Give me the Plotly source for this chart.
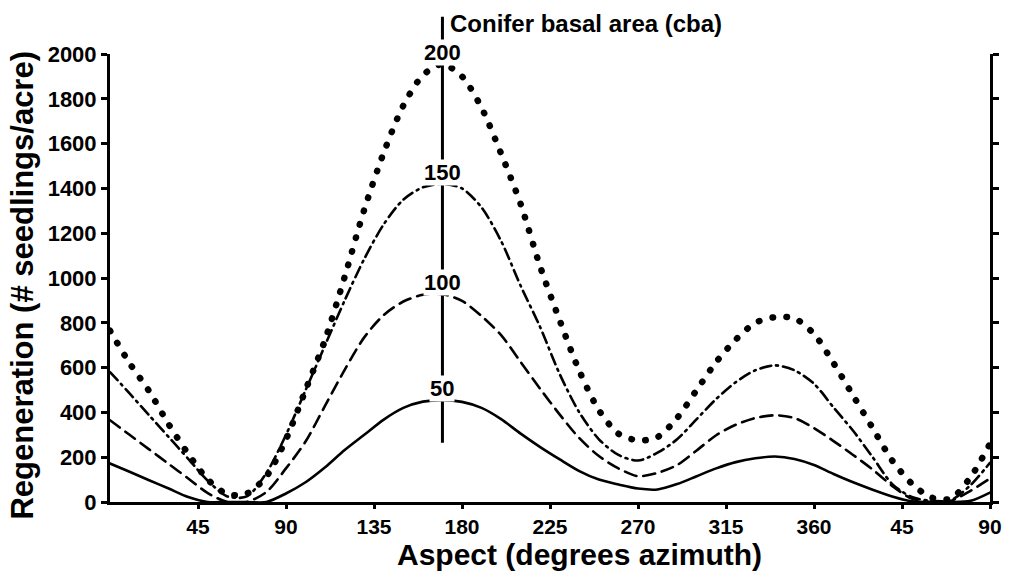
import plotly.graph_objects as go

# ---- data ----
aspect = [0, 10, 20, 30, 40, 50, 60, 70, 80, 90,
          100, 110, 120, 130, 140, 150, 160, 170, 180, 190,
          200, 210, 220, 230, 240, 250, 260, 270, 280, 290,
          300, 310, 320, 330, 340, 350, 360, 370, 380, 390,
          400, 410, 420, 430, 440, 450]

cba50 = [172, 135, 97, 60, 22, 0, 0, 0, 0, 38,
         88, 155, 232, 300, 368, 420, 448, 455, 447, 420,
         370, 305, 245, 190, 138, 100, 78, 60, 56, 80,
         115, 150, 178, 195, 203, 192, 165, 125, 88, 55,
         25, 3, 0, 0, 5, 42]

cba100 = [365, 300, 235, 170, 105, 40, 0, 0, 45, 150,
          270, 430, 590, 735, 835, 895, 925, 928, 898, 830,
          745, 625, 505, 390, 285, 205, 150, 115, 130, 165,
          230, 298, 345, 375, 387, 375, 330, 272, 210, 145,
          72, 15, 0, 5, 50, 105]

cba150 = [580, 485, 387, 290, 193, 95, 25, 25, 130, 300,
          499, 700, 900, 1085, 1240, 1350, 1405, 1420, 1400, 1315,
          1165, 965, 780, 570, 400, 280, 210, 185, 220, 280,
          370, 460, 535, 588, 610, 588, 528, 422, 318, 200,
          80, 22, 5, 8, 75, 175]

cba200 = [765, 620, 495, 347, 215, 100, 35, 38, 115, 280,
          500, 725, 1005, 1305, 1560, 1770, 1905, 1955, 1900, 1760,
          1555, 1330, 1050, 810, 585, 410, 305, 275, 290, 375,
          500, 625, 725, 800, 825, 820, 750, 620, 475, 330,
          185, 82, 20, 15, 110, 260]

series_labels = ["50", "100", "150", "200"]
marker_aspect = 170  # aspect where the cba labels sit

x_tickvals = [45, 90, 135, 180, 225, 270, 315, 360, 405, 450]
x_ticktext = ["45", "90", "135", "180", "225", "270", "315", "360", "45", "90"]
y_tickvals = [0, 200, 400, 600, 800, 1000, 1200, 1400, 1600, 1800, 2000]

x_title = "Aspect (degrees azimuth)"
y_title = "Regeneration (# seedlings/acre)"
legend_title = "Conifer basal area (cba)"

# ---- figure ----
FONT = "Liberation Sans, Arial, Helvetica, sans-serif"
styles = [
    dict(width=2.6, dash="solid"),
    dict(width=2.6, dash="12px,7px"),
    dict(width=2.6, dash="11px,5px,2px,5px"),
    dict(width=6.5, dash="0.5px,13.5px"),
]
all_series = [cba50, cba100, cba150, cba200]

fig = go.Figure()
for ys, st in zip(all_series, styles):
    fig.add_trace(go.Scatter(
        x=aspect, y=ys, mode="lines", hoverinfo="skip", showlegend=False,
        line=dict(color="black", width=st["width"], dash=st["dash"],
                  shape="spline", smoothing=0.8),
    ))

# vertical marker line
fig.add_shape(type="line", xref="x", yref="paper",
              x0=marker_aspect, x1=marker_aspect, y0=0.132, y1=1.083,
              line=dict(color="black", width=3), layer="above")

# curve labels at peaks
for lab, ys in zip(series_labels, all_series):
    peak = ys[aspect.index(marker_aspect)]
    fig.add_annotation(x=marker_aspect, y=peak, xref="x", yref="y",
                       text=lab, showarrow=False, xanchor="center",
                       yanchor="bottom", yshift=-2, bgcolor="white", borderpad=0,
                       font=dict(family=FONT, size=22, color="black", weight="bold"))

fig.add_annotation(x=marker_aspect, y=1.067, xref="x", yref="paper",
                   text=legend_title, showarrow=False, xanchor="left",
                   yanchor="middle", xshift=6,
                   font=dict(family=FONT, size=24, color="black", weight="bold"))

fig.add_annotation(x=0.533, y=-0.117, xref="paper", yref="paper",
                   text=x_title, showarrow=False, xanchor="center", yanchor="middle",
                   font=dict(family=FONT, size=30, color="black", weight="bold"))
fig.add_annotation(x=-0.099, y=0.485, xref="paper", yref="paper",
                   text=y_title, showarrow=False, xanchor="center", yanchor="middle",
                   textangle=-90,
                   font=dict(family=FONT, size=31, color="black", weight="bold"))

fig.update_layout(
    width=1014, height=573,
    margin=dict(l=110, r=19, t=54, b=71),
    paper_bgcolor="white", plot_bgcolor="white",
    font=dict(family=FONT, color="black"),
    showlegend=False,
)
fig.update_xaxes(range=[0, 450], tickmode="array", tickvals=x_tickvals, ticktext=x_ticktext,
                 showgrid=False, zeroline=False, showline=True, linecolor="black", linewidth=3,
                 ticks="outside", ticklen=4, tickwidth=2.5, tickcolor="black",
                 tickfont=dict(family=FONT, size=21, color="black", weight="bold"))
fig.update_yaxes(range=[0, 2000], tickmode="array", tickvals=y_tickvals,
                 showgrid=False, zeroline=False, showline=True, linecolor="black", linewidth=3,
                 mirror="ticks",
                 ticks="outside", ticklen=6, tickwidth=2.5, tickcolor="black",
                 tickfont=dict(family=FONT, size=22, color="black", weight="bold"))

post = """
var gd = document.getElementById('{plot_id}');
gd.querySelectorAll('path.js-line').forEach(function(p){ p.style.strokeLinecap = 'round'; });
"""
fig.write_html("out.html", config={"displayModeBar": False}, post_script=post)
